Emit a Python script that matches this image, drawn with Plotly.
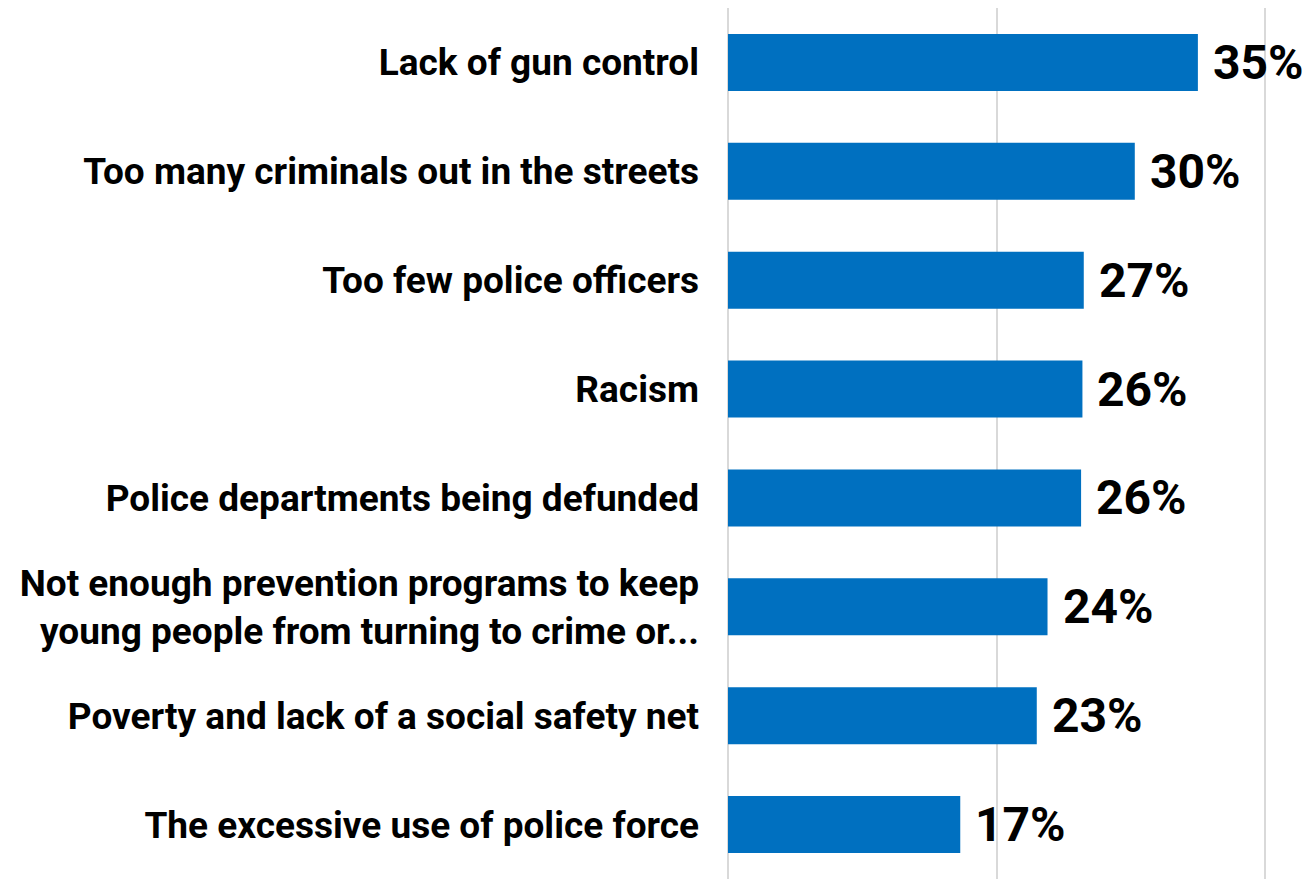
import plotly.graph_objects as go

categories = [
    "Lack of gun control",
    "Too many criminals out in the streets",
    "Too few police officers",
    "Racism",
    "Police departments being defunded",
    "Not enough prevention programs to keep<br>young people from turning to crime or...",
    "Poverty and lack of a social safety net",
    "The excessive use of police force",
]
values = [35.0, 30.3, 26.5, 26.4, 26.3, 23.8, 23.0, 17.3]
labels = [f"{int(v + 0.5)}%" for v in values]
tick_vals = [0, 20, 40]

fig = go.Figure(go.Bar(
    x=values, y=categories, orientation="h",
    marker=dict(color="#0070C0", line=dict(width=0)),
    hoverinfo="skip",
))

for c, v, t in zip(categories, values, labels):
    fig.add_annotation(
        x=v, y=c, text=t, showarrow=False, xanchor="left", yanchor="middle",
        xshift=13,
        font=dict(family="Roboto, sans-serif", size=48, color="#000000", weight="bold"),
    )

fig.update_layout(
    width=1312, height=879,
    margin=dict(l=728, r=0, t=8, b=0, autoexpand=False),
    paper_bgcolor="white", plot_bgcolor="white",
    bargap=0.476,
    showlegend=False,
    xaxis=dict(range=[0, 43.5], tickvals=tick_vals, showticklabels=False,
               showgrid=True, gridcolor="#d9d9d9", gridwidth=2,
               zeroline=True, zerolinecolor="#d9d9d9", zerolinewidth=2,
               fixedrange=True),
    yaxis=dict(autorange="reversed", automargin=False, ticks="",
               ticklabelstandoff=28,
               tickfont=dict(family="Roboto, sans-serif", size=37,
                             color="#000000", weight="bold"),
               showline=False, fixedrange=True),
)

fig.write_html("out.html")
